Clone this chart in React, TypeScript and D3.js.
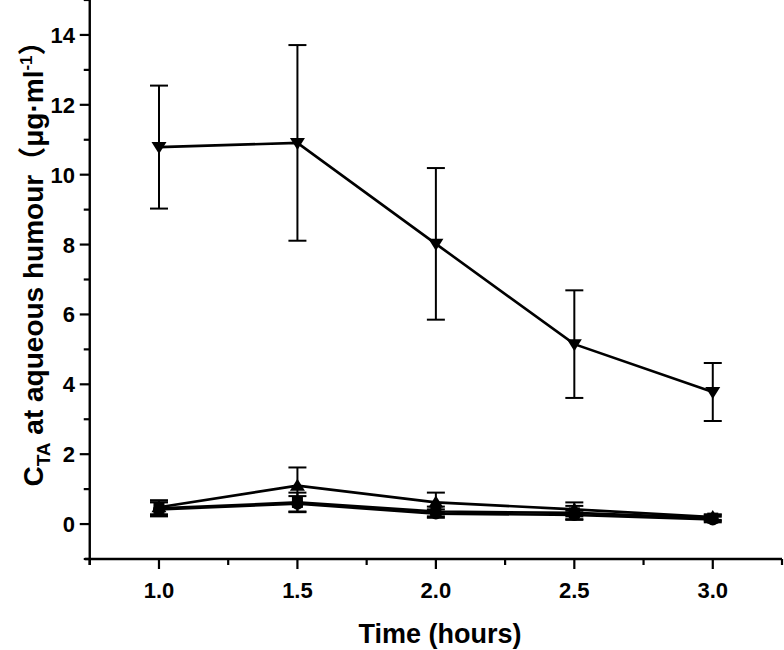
import React from "react";
import * as d3 from "d3";

const times = [1.0, 1.5, 2.0, 2.5, 3.0];
const s1Mean = [10.79, 10.91, 8.02, 5.15, 3.78];
const s1Err = [1.76, 2.8, 2.17, 1.54, 0.83];
const s2Mean = [0.48, 1.1, 0.62, 0.42, 0.2];
const s2Err = [0.2, 0.52, 0.28, 0.2, 0.08];
const s3Mean = [0.45, 0.62, 0.36, 0.32, 0.17];
const s3Err = [0.22, 0.28, 0.14, 0.2, 0.08];
const s4Mean = [0.42, 0.58, 0.3, 0.26, 0.13];
const s4Err = [0.2, 0.22, 0.12, 0.12, 0.08];
const xMajor = [1.0, 1.5, 2.0, 2.5, 3.0];
const xMinor = [0.75, 1.25, 1.75, 2.25, 2.75, 3.25];
const yMajor = [0, 2, 4, 6, 8, 10, 12, 14];
const yMinor = [-1, 1, 3, 5, 7, 9, 11, 13, 15];

const series = [
  { mean: s3Mean, err: s3Err, shape: "square" },
  { mean: s4Mean, err: s4Err, shape: "circle" },
  { mean: s2Mean, err: s2Err, shape: "up" },
  { mean: s1Mean, err: s1Err, shape: "down" },
];

const FONT = "'Liberation Sans', Arial, sans-serif";

export default function App() {
  const x = d3.scaleLinear().domain([0.75, 3.25]).range([89.75, 782]);
  const y = d3.scaleLinear().domain([-1, 15]).range([559, 0]);
  const line = d3
    .line<number>()
    .x((_, i) => x(times[i]))
    .y((d) => y(d));

  const marker = (shape: string, cx: number, cy: number, key: string) => {
    if (shape === "down")
      return <path key={key} d={`M${cx - 7.5},${cy - 5} L${cx + 7.5},${cy - 5} L${cx},${cy + 7} Z`} fill="#000" />;
    if (shape === "up")
      return <path key={key} d={`M${cx - 7.5},${cy + 5} L${cx + 7.5},${cy + 5} L${cx},${cy - 7} Z`} fill="#000" />;
    if (shape === "square")
      return <rect key={key} x={cx - 5.5} y={cy - 5.5} width={11} height={11} fill="#000" />;
    return <circle key={key} cx={cx} cy={cy} r={6} fill="#000" />;
  };

  return (
    <svg
      width={784}
      height={650}
      style={{ position: "absolute", left: 0, top: 0, background: "#fff" }}
      fontFamily={FONT}
    >
      {/* axes */}
      <line x1={85} x2={782} y1={y(-1)} y2={y(-1)} stroke="#000" strokeWidth={2.4} />
      <line x1={x(0.75)} x2={x(0.75)} y1={0} y2={565} stroke="#000" strokeWidth={2.4} />
      {xMajor.map((t) => (
        <g key={"xm" + t}>
          <line x1={x(t)} x2={x(t)} y1={y(-1)} y2={y(-1) + 10} stroke="#000" strokeWidth={2.2} />
          <text x={x(t)} y={598} textAnchor="middle" fontSize={22} fontWeight="bold">
            {t.toFixed(1)}
          </text>
        </g>
      ))}
      {xMinor.map((t) => (
        <line key={"xn" + t} x1={x(t)} x2={x(t)} y1={y(-1)} y2={y(-1) + 6} stroke="#000" strokeWidth={2.2} />
      ))}
      {yMajor.map((v) => (
        <g key={"ym" + v}>
          <line x1={x(0.75) - 10} x2={x(0.75)} y1={y(v)} y2={y(v)} stroke="#000" strokeWidth={2.2} />
          <text x={75} y={y(v) + 8} textAnchor="end" fontSize={22} fontWeight="bold">
            {v}
          </text>
        </g>
      ))}
      {yMinor.map((v) => (
        <line key={"yn" + v} x1={x(0.75) - 6} x2={x(0.75)} y1={y(v)} y2={y(v)} stroke="#000" strokeWidth={2.2} />
      ))}

      {/* series */}
      {series.map((s, si) => (
        <g key={"s" + si}>
          {s.mean.map((m, i) => {
            const cx = x(times[i]);
            const top = y(m + s.err[i]);
            const bot = y(m - s.err[i]);
            return (
              <g key={"e" + i} stroke="#000" strokeWidth={2}>
                <line x1={cx} x2={cx} y1={top} y2={bot} />
                <line x1={cx - 9} x2={cx + 9} y1={top} y2={top} />
                <line x1={cx - 9} x2={cx + 9} y1={bot} y2={bot} />
              </g>
            );
          })}
          <path d={line(s.mean) || ""} fill="none" stroke="#000" strokeWidth={2.6} />
          {s.mean.map((m, i) => marker(s.shape, x(times[i]), y(m), "m" + i))}
        </g>
      ))}

      {/* titles */}
      <text x={440} y={643} textAnchor="middle" fontSize={27} fontWeight="bold">
        Time (hours)
      </text>
      <text
        transform="translate(43,257) rotate(-90)"
        textAnchor="middle"
        fontSize={28}
        fontWeight="bold"
      >
        C<tspan fontSize={19} dy={7}>TA</tspan>
        <tspan dy={-7}> at aqueous humour</tspan>
        <tspan fontFamily="'Noto Sans CJK SC', sans-serif">（</tspan>
        <tspan>μg·ml</tspan>
        <tspan fontSize={17} dy={-11}>-1</tspan>
        <tspan dy={11} fontFamily="'Noto Sans CJK SC', sans-serif">）</tspan>
      </text>
    </svg>
  );
}
